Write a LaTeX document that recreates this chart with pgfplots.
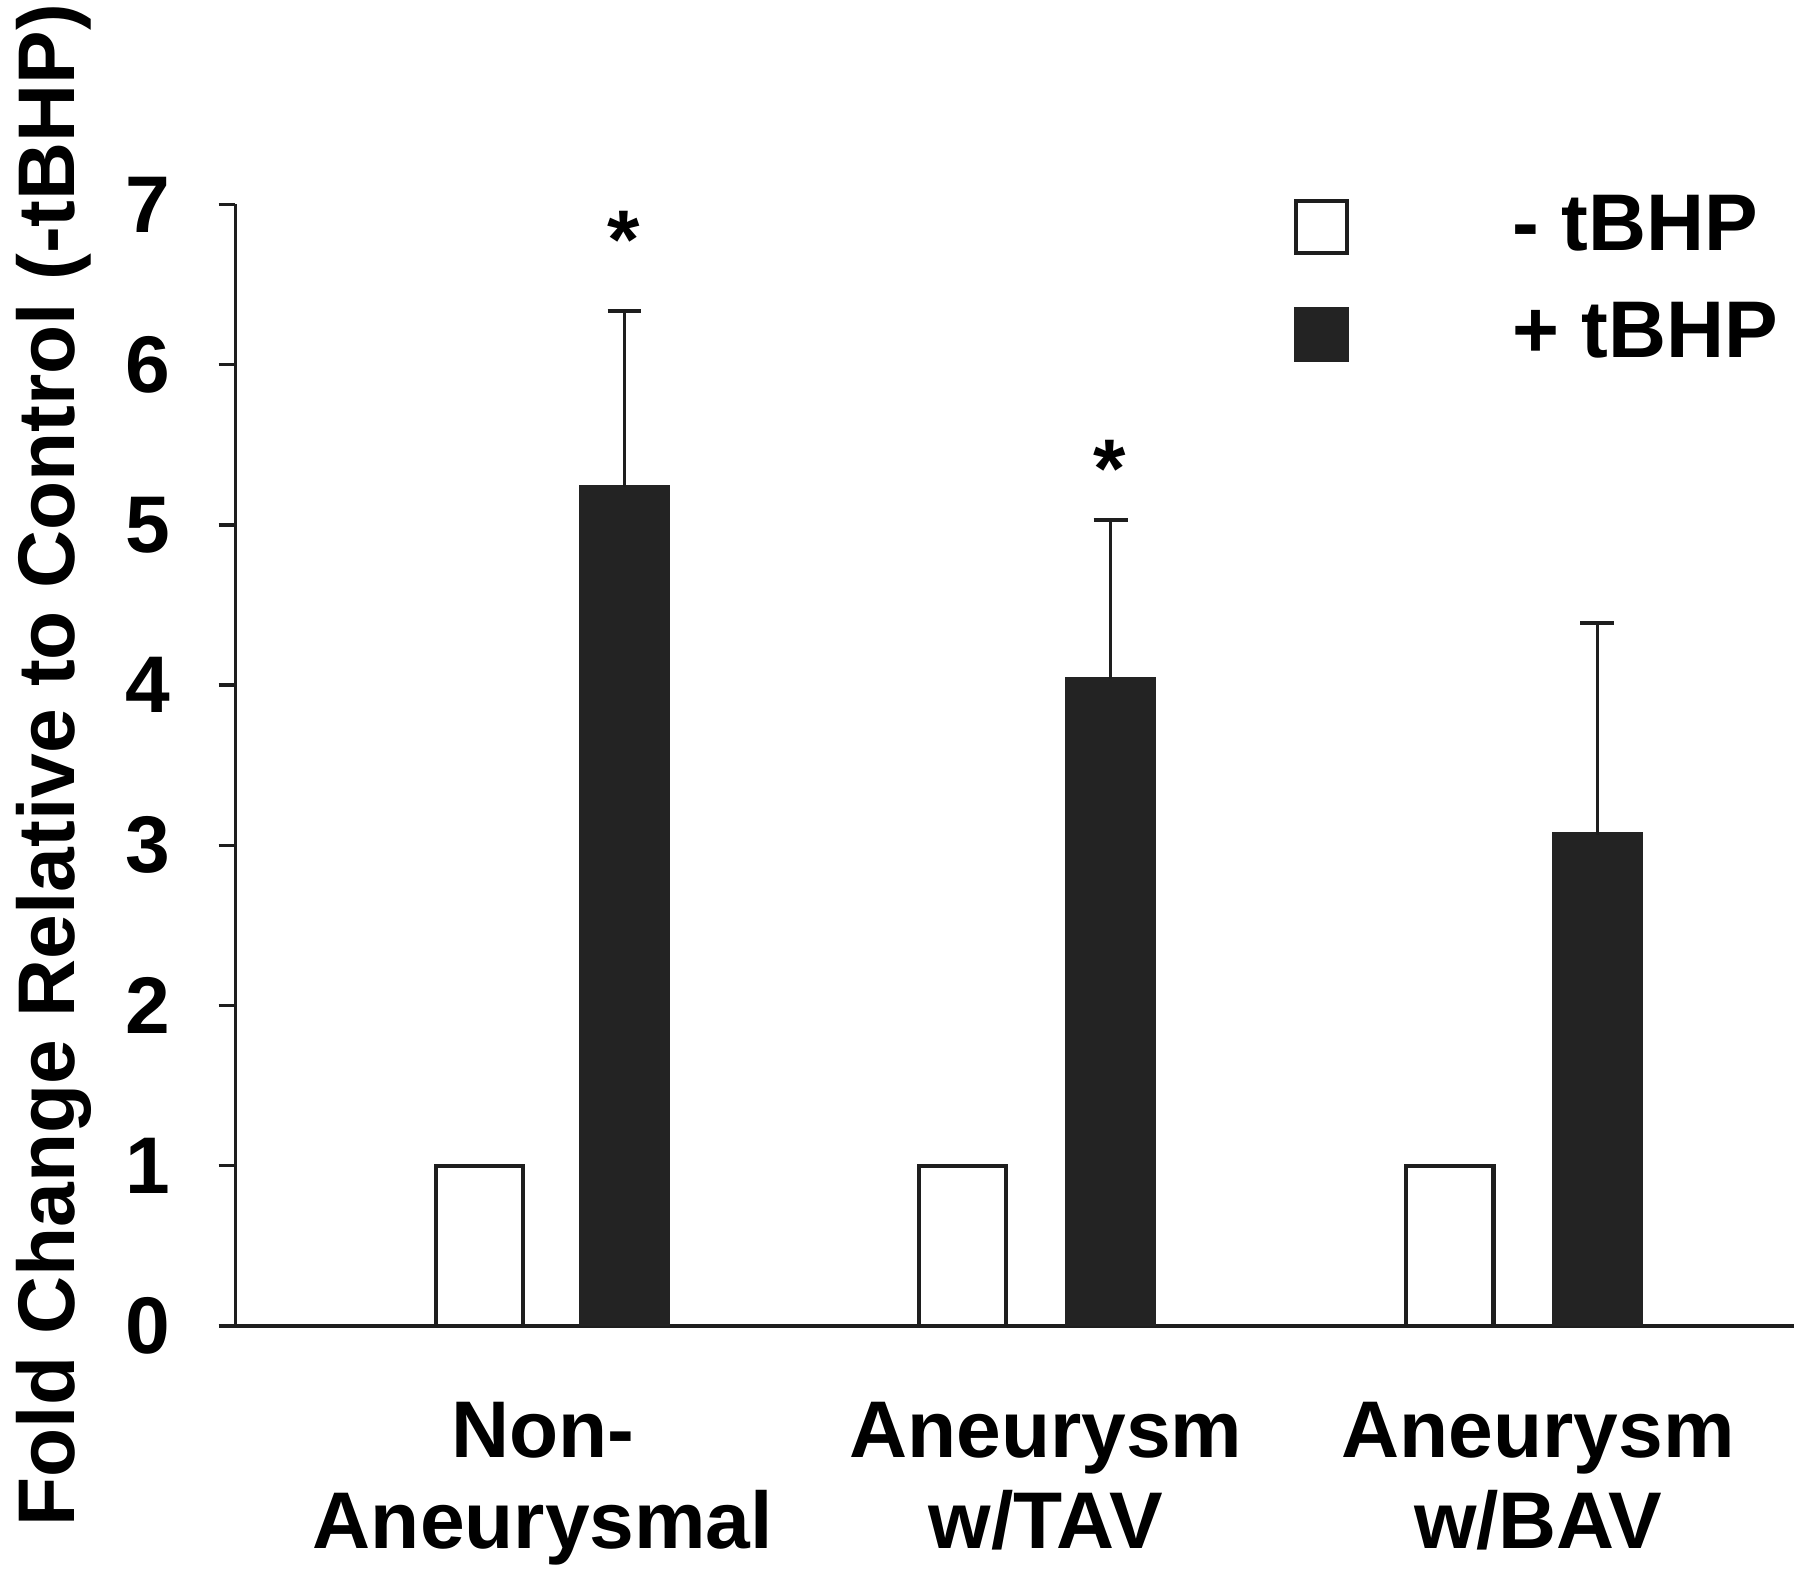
\documentclass[border=0pt]{standalone}
\usepackage{fontspec}
\setmainfont{Liberation Sans}
\usepackage{pgfplots}
\pgfplotsset{compat=1.18}
\definecolor{barblack}{HTML}{232323}
\definecolor{ink}{HTML}{1E1E1E}
\begin{document}
\begin{tikzpicture}[font=\fontsize{14}{16}\selectfont\bfseries]
\begin{axis}[
  scale only axis,
  width=271.6pt, height=195.4pt,
  xmin=205, xmax=1563,
  ymin=0, ymax=7,
  axis x line=bottom, axis y line=left,
  axis line style={ink, line width=0.6pt, -},
  ytick={0,1,...,7},
  ytick style={ink, line width=0.6pt},
  tick align=outside,
  major tick length=2.9pt,
  xtick={473,911,1340},
  xticklabels={{Non-\\Aneurysmal},{Aneurysm\\w/TAV},{Aneurysm\\w/BAV}},
  xtick style={draw=none},
  xticklabel style={align=center, yshift=-6.8pt},
  yticklabel style={inner xsep=0pt, xshift=-8.3pt},
  /pgf/number format/assume math mode=true,
  ylabel={Fold Change Relative to Control (-tBHP)},
  every axis y label/.style={at={(axis description cs:-0.1032,0.5)}, rotate=90, anchor=base},
  legend cell align=left,
  legend style={at={(axis cs:1126,7.065)}, anchor=north west, draw=none, fill=none,
    inner sep=0pt, row sep=7.6pt, nodes={inner sep=0pt},
    /tikz/every odd column/.append style={column sep=28.4pt}},
  legend image code/.code={\draw[#1, line width=0.7pt] (0pt,-4.5pt) rectangle (9pt,4.5pt);},
]
\coordinate (O) at (rel axis cs:0,0);
\addplot[ybar, bar width=76, bar shift=0pt, draw=ink, line width=0.7pt, fill=white]
  coordinates {(417.5,1) (838.5,1) (1263,1)};
\addlegendentry{- tBHP}
\addplot[ybar, bar width=76, bar shift=0pt, draw=barblack, line width=0.7pt, fill=barblack,
  error bars/.cd, y dir=plus, y explicit,
  error bar style={ink, line width=0.6pt},
  error mark options={ink, rotate=90, line width=0.7pt, mark size=2.95pt}]
  coordinates {(544,5.237) +- (0,1.10) (967.5,4.04) +- (0,0.99) (1391.5,3.067) +- (0,1.318)};
\addlegendentry{+ tBHP}
\addplot[draw=none, forget plot, nodes near coords={*}, nodes near coords align=center,
  every node near coord/.append style={inner sep=0pt, font=\fontsize{14.5}{16}\selectfont\bfseries}]
  coordinates {(543,6.78) (966.5,5.35)};
\end{axis}
\pgfresetboundingbox
\path ([shift={(-41pt,-44.6pt)}]O) rectangle ([shift={(272.6pt,231pt)}]O);
\end{tikzpicture}
\end{document}
